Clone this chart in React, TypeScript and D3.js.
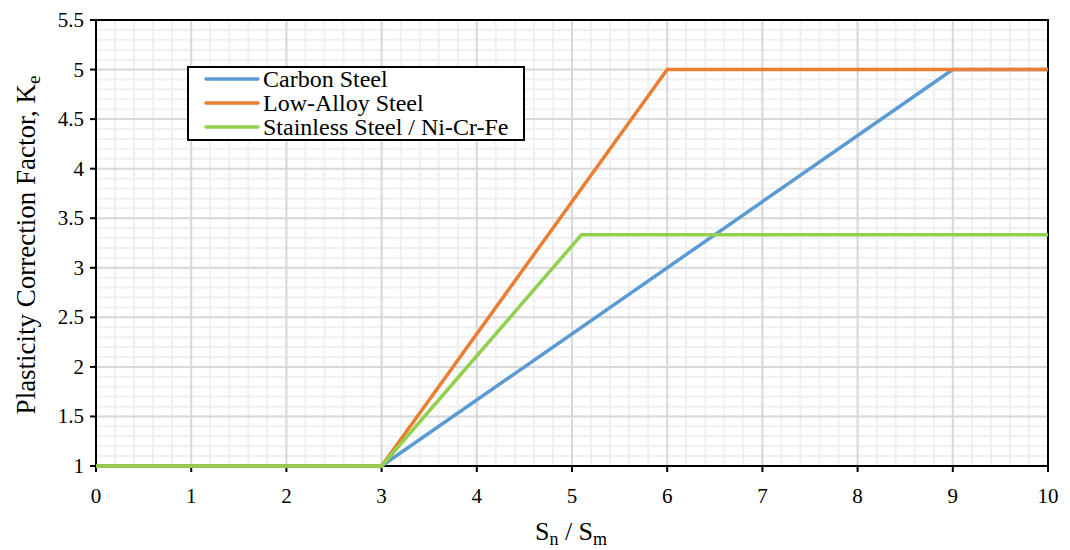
import React from "react";
import * as d3 from "d3";

const seriesNames = ["Carbon Steel", "Low-Alloy Steel", "Stainless Steel / Ni-Cr-Fe"];
const seriesColors = ["#5B9BD5", "#ED7D31", "#92D050"];
const carbonX = [0, 3, 9, 10];
const carbonY = [1, 1, 5, 5];
const lowAlloyX = [0, 3, 6, 10];
const lowAlloyY = [1, 1, 5, 5];
const stainlessX = [0, 3, 5.1, 10];
const stainlessY = [1, 1, 3.3333, 3.3333];
const xTicks = [0, 1, 2, 3, 4, 5, 6, 7, 8, 9, 10];
const yTicks = [1, 1.5, 2, 2.5, 3, 3.5, 4, 4.5, 5, 5.5];

const W = 1070, H = 550;
const L = 96, R = 1048, T = 20, B = 466;
const FS = { fontFamily: '"Liberation Serif"' };

export default function App() {
  const x = d3.scaleLinear().domain([0, 10]).range([L, R]);
  const y = d3.scaleLinear().domain([1, 5.5]).range([B, T]);
  const line = d3.line<[number, number]>().x(d => x(d[0])).y(d => y(d[1]));
  const series = [
    carbonX.map((v, i) => [v, carbonY[i]] as [number, number]),
    lowAlloyX.map((v, i) => [v, lowAlloyY[i]] as [number, number]),
    stainlessX.map((v, i) => [v, stainlessY[i]] as [number, number]),
  ];
  const minorX = d3.range(0, 10.001, 0.2);
  const minorY = d3.range(1, 5.501, 0.1);
  return (
    <svg width={W} height={H} style={{ position: "absolute", left: 0, top: 0, background: "#fff" }}>
      {minorX.map((v, i) => (
        <line key={"mx" + i} x1={x(v)} x2={x(v)} y1={T} y2={B} stroke="#f0f0f0" strokeWidth={2} />
      ))}
      {minorY.map((v, i) => (
        <line key={"my" + i} x1={L} x2={R} y1={y(v)} y2={y(v)} stroke="#f0f0f0" strokeWidth={2} />
      ))}
      {xTicks.map(v => (
        <line key={"gx" + v} x1={x(v)} x2={x(v)} y1={T} y2={B} stroke="#d9d9d9" strokeWidth={2} />
      ))}
      {yTicks.map(v => (
        <line key={"gy" + v} x1={L} x2={R} y1={y(v)} y2={y(v)} stroke="#d9d9d9" strokeWidth={2} />
      ))}
      <rect x={L} y={T} width={R - L} height={B - T} fill="none" stroke="#000" strokeWidth={2} />
      {xTicks.map(v => (
        <g key={"tx" + v}>
          <line x1={x(v)} x2={x(v)} y1={B} y2={B + 6} stroke="#000" strokeWidth={2} />
          <text x={x(v)} y={503} textAnchor="middle" fontSize={21} style={FS}>{v}</text>
        </g>
      ))}
      {yTicks.map(v => (
        <g key={"ty" + v}>
          <line x1={L - 6} x2={L} y1={y(v)} y2={y(v)} stroke="#000" strokeWidth={2} />
          <text x={84} y={y(v) + 7} textAnchor="end" fontSize={21} style={FS}>{v}</text>
        </g>
      ))}
      {series.map((s, i) => (
        <path key={"s" + i} d={line(s) || ""} fill="none" stroke={seriesColors[i]} strokeWidth={3.5} strokeLinejoin="round" />
      ))}
      <rect x={188} y={67} width={336} height={73} fill="#fff" stroke="#000" strokeWidth={2} />
      {seriesNames.map((n, i) => (
        <g key={"lg" + i}>
          <line x1={206} x2={258} y1={79 + i * 24} y2={79 + i * 24} stroke={seriesColors[i]} strokeWidth={3.5} strokeLinecap="round" />
          <text x={263} y={87 + i * 24} fontSize={24} style={FS}>{n}</text>
        </g>
      ))}
      <text transform="translate(35,245) rotate(-90)" textAnchor="middle" fontSize={27} style={FS}>
        Plasticity Correction Factor, K<tspan fontSize={19} dy={5} style={FS}>e</tspan>
      </text>
      <text x={571} y={540} textAnchor="middle" fontSize={26} style={FS}>
        S<tspan fontSize={18} dy={5} style={FS}>n</tspan><tspan dy={-5} style={FS}> / S</tspan><tspan fontSize={18} dy={5} style={FS}>m</tspan>
      </text>
    </svg>
  );
}
